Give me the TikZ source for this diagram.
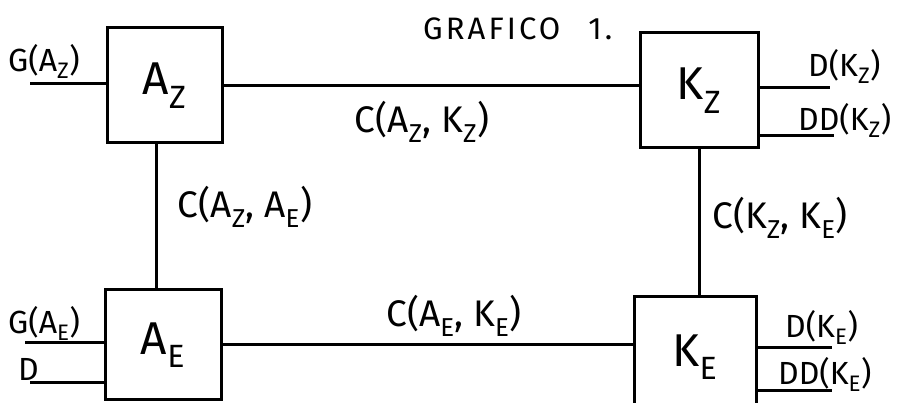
\documentclass[tikz,border=0pt]{standalone}
\usepackage{fontspec}
\setmainfont{Fira Sans}
\tikzset{
  blk/.style={draw, line width=3pt, inner sep=0pt, font=\fontsize{46}{46}\selectfont},
  wire/.style={line width=3pt},
  lbl/.style={inner sep=0pt, font=\fontsize{37}{37}\selectfont},
  side/.style={inner sep=0pt, anchor=base west, font=\fontsize{32}{32}\selectfont},
}
\newcommand{\sbZ}{\textsubscript{Z}}
\newcommand{\sbE}{\textsubscript{E}}
\begin{document}
\begin{tikzpicture}[x=1pt,y=-1pt]
\useasboundingbox (0,0) rectangle (898,403);
% boxes
\node[blk, minimum width=115pt, minimum height=115pt] (AZ) at (164.5,85.5) {A\sbZ};
\node[blk, minimum width=118pt, minimum height=115pt] (KZ) at (699,90.5) {K\sbZ};
\node[blk, minimum width=116pt, minimum height=110pt] (AE) at (163,345) {A\sbE};
\node[blk, minimum width=122pt, minimum height=120pt] (KE) at (695,357) {\raisebox{6pt}{K\sbE}};
% connectors between boxes
\draw[wire] (AZ.east) -- (AZ.east -| KZ.west);
\draw[wire] ([xshift=-8pt]AZ.south) -- ([xshift=-8pt]AZ.south |- AE.north);
\draw[wire] (KZ.south) -- (KZ.south |- KE.north);
\draw[wire] (AE.east) -- (AE.east -| KE.west);
% free ends
\coordinate (gaz) at (30,84);
\coordinate (gae) at (25,343);
\coordinate (dae) at (30,383);
\coordinate (dkz) at (830,88);
\coordinate (ddkz) at (834,136);
\coordinate (dke) at (832,348);
\coordinate (ddke) at (832,391);
\draw[wire] (gaz) -- (gaz -| AZ.west);
\draw[wire] (gae) -- (gae -| AE.west);
\draw[wire] (dae) -- (dae -| AE.west);
\draw[wire] (dkz -| KZ.east) -- (dkz);
\draw[wire] (ddkz -| KZ.east) -- (ddkz);
\draw[wire] (dke -| KE.east) -- (dke);
\draw[wire] (ddke -| KE.east) -- (ddke);
% labels
\node[side, font=\fontsize{31}{31}\selectfont\addfontfeature{LetterSpace=10}] (title) at (423,40) {GRAFICO\hspace{0.9em}1.};
\node[side] (lgaz) at (8,72) {G(A\sbZ)};
\node[side] (lgae) at (8,334) {G(A\sbE)};
\node[side] (ldae) at (18,381) {D};
\node[lbl] (lazkz) at (422,122) {C(A\sbZ, K\sbZ)};
\node[lbl] (lazae) at (245,207) {C(A\sbZ, A\sbE)};
\node[lbl] (laeke) at (454,316) {C(A\sbE, K\sbE)};
\node[lbl] (lkzke) at (780,218) {C(K\sbZ, K\sbE)};
\node[side] (ldkz) at (808,77) {D(K\sbZ)};
\node[side] (lddkz) at (798,131) {DD(K\sbZ)};
\node[side] (ldke) at (785,338) {D(K\sbE)};
\node[side] (lddke) at (778,385) {DD(K\sbE)};
\end{tikzpicture}
\end{document}
